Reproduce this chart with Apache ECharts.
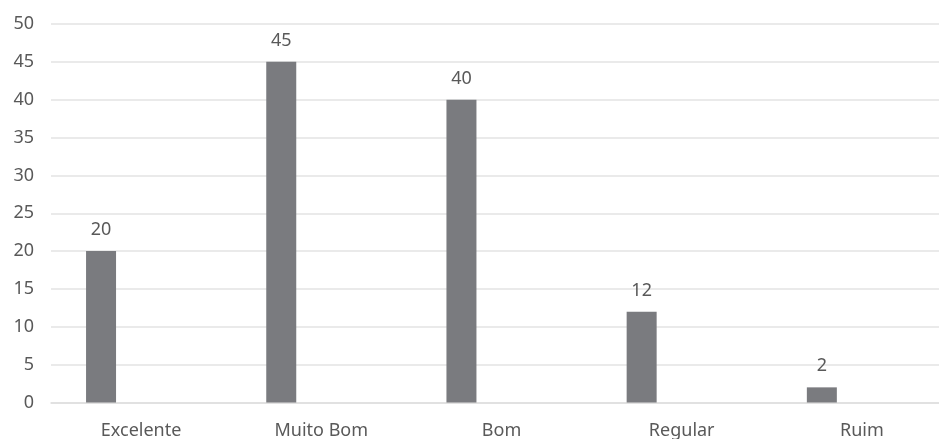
<!DOCTYPE html>
<html><head><meta charset="utf-8">
<script src="https://cdn.jsdelivr.net/npm/echarts@6/dist/echarts.min.js"></script>
<style>html,body{margin:0;padding:0;background:#fff}#c{width:939px;height:439px}</style>
</head><body><div id="c"></div>
<script>
const categories = ['Excelente', 'Muito Bom', 'Bom', 'Regular', 'Ruim'];
const values = [20, 45, 40, 12, 2];
const emptySeries = [null, null, null, null, null];
const yTicks = { min: 0, max: 50, interval: 5 };

const font = 'Noto Sans';
const chart = echarts.init(document.getElementById('c'));
chart.setOption({
  animation: false,
  grid: { left: 51, width: 901, top: 24, bottom: 36.5, outerBoundsMode: 'none', containLabel: false },
  xAxis: {
    type: 'category', data: categories,
    axisLine: { lineStyle: { color: '#dedede', width: 1.5 } },
    axisTick: { show: false },
    axisLabel: { color: '#595959', fontFamily: font, fontSize: 18, margin: 19 }
  },
  yAxis: {
    type: 'value', min: yTicks.min, max: yTicks.max, interval: yTicks.interval,
    axisLine: { show: false }, axisTick: { show: false },
    splitLine: { lineStyle: { color: '#e3e3e3', width: 1.5 } },
    axisLabel: { color: '#595959', fontFamily: font, fontSize: 18, margin: 17 }
  },
  series: [
    { type: 'bar', data: values, barWidth: 30, barGap: '167%',
      itemStyle: { color: '#7a7b7f' },
      label: { show: true, position: 'top', distance: 12, color: '#595959', fontFamily: font, fontSize: 18 } },
    { type: 'bar', data: emptySeries, barWidth: 30 }
  ]
});
</script></body></html>
